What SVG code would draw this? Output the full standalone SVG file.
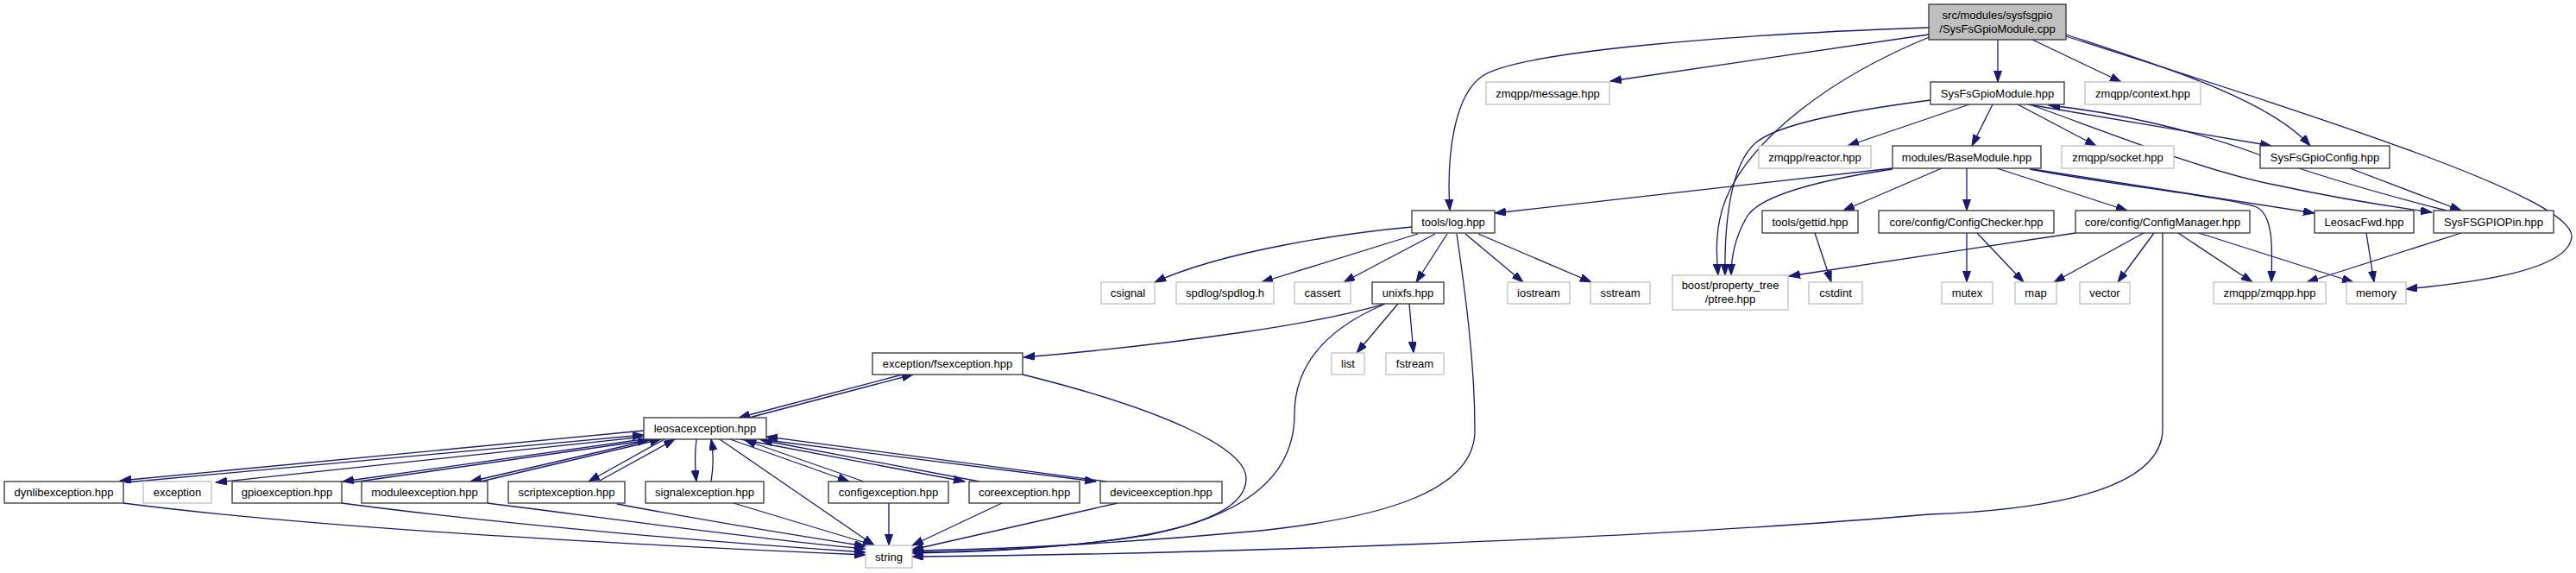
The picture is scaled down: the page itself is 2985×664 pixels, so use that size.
<svg xmlns="http://www.w3.org/2000/svg" width="2985" height="664" viewBox="0 0 2985 664">
<style>
text{font-family:"Liberation Sans",Arial,sans-serif;font-size:13px;text-anchor:middle;fill:#000}
.n rect{fill:#fff;stroke:#333;stroke-width:1.3}
.g rect{fill:#fff;stroke:#bfbfbf;stroke-width:1.3}
.m rect{fill:#bfbfbf;stroke:#333;stroke-width:1.3}
#edges path{fill:none;stroke:#191970;stroke-width:1.3;marker-end:url(#ah)}
</style>
<defs>
<marker id="ah" markerUnits="userSpaceOnUse" markerWidth="14" markerHeight="10" refX="13" refY="4.5" orient="auto">
<path d="M0,0 L13,4.5 L0,9 z" fill="#191970" stroke="#191970"/>
</marker>
</defs>
<rect width="2985" height="664" fill="#fff"/>
<g id="edges">
<path d="M2235,32 C2000,40 1760,60 1718,88 C1685,110 1676,180 1680,244"/>
<path d="M2235,40 L1866,94"/>
<path d="M2238,42 C2120,90 2030,160 2000,230 C1988,260 1988,290 1991,319"/>
<path d="M2315,46 L2315,95"/>
<path d="M2355,46 L2458,95"/>
<path d="M2394,40 C2500,75 2630,115 2677,169"/>
<path d="M2394,42 C2700,140 2985,230 2980,275 C2975,315 2860,328 2788,335"/>
<path d="M2237,116 C2130,130 2060,145 2035,165 C2005,190 1998,260 1999,319"/>
<path d="M2282,121 L2141,169"/>
<path d="M2309,121 L2285,169"/>
<path d="M2338,121 L2429,169"/>
<path d="M2350,121 L2632,169"/>
<path d="M2352,121 C2460,160 2560,200 2640,215 C2700,228 2760,238 2818,246"/>
<path d="M2835,244 C2760,225 2690,205 2620,180 C2540,150 2450,130 2374,122"/>
<path d="M2723,195 L2852,244"/>
<path d="M2193,195 L1732,247"/>
<path d="M2193,196 C2100,210 2040,228 2025,250 C2010,275 2006,300 2006,319"/>
<path d="M2250,195 L2136,244"/>
<path d="M2279,195 L2279,244"/>
<path d="M2314,195 L2465,244"/>
<path d="M2355,196 L2682,247"/>
<path d="M2352,196 C2450,215 2580,228 2615,240 C2635,250 2633,290 2632,327"/>
<path d="M2279,270 L2279,327"/>
<path d="M2291,270 L2345,327"/>
<path d="M2103,270 L2122,327"/>
<path d="M2405,270 L2073,320"/>
<path d="M2484,270 L2380,327"/>
<path d="M2496,270 L2454,327"/>
<path d="M2506,270 L2506,497 C2506,560 2400,590 2235,596 C1900,625 1400,642 1057,645"/>
<path d="M2524,270 L2610,327"/>
<path d="M2548,270 L2727,327"/>
<path d="M2742,270 L2751,327"/>
<path d="M2852,270 L2673,327"/>
<path d="M1636,263 C1560,270 1420,290 1338,327"/>
<path d="M1643,271 L1462,327"/>
<path d="M1663,271 L1557,327"/>
<path d="M1677,271 L1641,327"/>
<path d="M1688,271 C1698,340 1709,420 1709,499 C1709,570 1600,600 1460,615 C1300,630 1150,637 1057,638"/>
<path d="M1698,271 L1765,327"/>
<path d="M1713,271 L1844,327"/>
<path d="M1605,352 C1570,362 1510,375 1440,385 C1350,398 1260,408 1186,414"/>
<path d="M1603,353 C1540,380 1500,420 1500,480 C1500,560 1430,600 1330,620 C1240,634 1150,640 1057,641"/>
<path d="M1620,352 L1572,409"/>
<path d="M1633,352 L1638,409"/>
<path d="M1185,434 C1350,475 1445,520 1444,555 C1443,620 1250,637 1057,640"/>
<path d="M1046,434 L856,484"/>
<path d="M868,484 L1058,434"/>
<path d="M834,509 L1013,632"/>
<path d="M807,509 C805,525 805,540 807,558"/>
<path d="M824,558 C827,540 827,525 824,509"/>
<path d="M846,509 L984,558"/>
<path d="M1001,558 L863,510"/>
<path d="M858,509 L1118,558"/>
<path d="M1135,558 L882,510"/>
<path d="M880,509 L1270,558"/>
<path d="M1282,558 L888,506"/>
<path d="M746,499 L139,557"/>
<path d="M146,559 L746,504"/>
<path d="M748,506 L250,559"/>
<path d="M752,508 L397,558"/>
<path d="M408,559 L752,510"/>
<path d="M758,509 L545,558"/>
<path d="M557,558 L766,509"/>
<path d="M770,509 L682,558"/>
<path d="M693,558 L782,509"/>
<path d="M143,583 C350,610 700,630 1003,643"/>
<path d="M396,583 C600,610 850,630 1003,640"/>
<path d="M565,583 C700,600 880,625 1003,636"/>
<path d="M715,584 C800,600 920,620 1003,633"/>
<path d="M850,583 L1013,632"/>
<path d="M1030,583 L1030,632"/>
<path d="M1161,583 L1057,632"/>
<path d="M1295,583 L1057,637"/>
</g>
<g id="main" class="m"><rect x="2235" y="5" width="159" height="41"/><text x="2314.5" y="22">src/modules/sysfsgpio</text><text x="2314.5" y="38">/SysFsGpioModule.cpp</text></g>
<g id="message" class="g"><rect x="1722" y="95" width="143" height="26"/><text x="1793.5" y="112.5">zmqpp/message.hpp</text></g>
<g id="sysfsgpiomodule" class="n"><rect x="2237" y="95" width="155" height="26"/><text x="2314.5" y="112.5">SysFsGpioModule.hpp</text></g>
<g id="context" class="g"><rect x="2416" y="95" width="134" height="26"/><text x="2483" y="112.5">zmqpp/context.hpp</text></g>
<g id="reactor" class="g"><rect x="2038" y="169" width="130" height="26"/><text x="2103" y="186.5">zmqpp/reactor.hpp</text></g>
<g id="basemodule" class="n"><rect x="2193" y="169" width="172" height="26"/><text x="2279" y="186.5">modules/BaseModule.hpp</text></g>
<g id="socket" class="g"><rect x="2389" y="169" width="130" height="26"/><text x="2454" y="186.5">zmqpp/socket.hpp</text></g>
<g id="sysfsgpioconfig" class="n"><rect x="2619" y="169" width="150" height="26"/><text x="2694" y="186.5">SysFsGpioConfig.hpp</text></g>
<g id="log" class="n"><rect x="1636" y="244" width="96" height="26"/><text x="1684" y="261.5">tools/log.hpp</text></g>
<g id="gettid" class="n"><rect x="2042" y="244" width="111" height="26"/><text x="2097.5" y="261.5">tools/gettid.hpp</text></g>
<g id="configchecker" class="n"><rect x="2177" y="244" width="203" height="26"/><text x="2278.5" y="261.5">core/config/ConfigChecker.hpp</text></g>
<g id="configmanager" class="n"><rect x="2405" y="244" width="202" height="26"/><text x="2506" y="261.5">core/config/ConfigManager.hpp</text></g>
<g id="leosacfwd" class="n"><rect x="2682" y="244" width="115" height="26"/><text x="2739.5" y="261.5">LeosacFwd.hpp</text></g>
<g id="sysfsgpiopin" class="n"><rect x="2820" y="244" width="139" height="26"/><text x="2889.5" y="261.5">SysFSGPIOPin.hpp</text></g>
<g id="csignal" class="g"><rect x="1276" y="327" width="62" height="25"/><text x="1307" y="344">csignal</text></g>
<g id="spdlog" class="g"><rect x="1363" y="327" width="113" height="25"/><text x="1419.5" y="344">spdlog/spdlog.h</text></g>
<g id="cassert" class="g"><rect x="1500" y="327" width="65" height="25"/><text x="1532.5" y="344">cassert</text></g>
<g id="unixfs" class="n"><rect x="1590" y="327" width="83" height="25"/><text x="1631.5" y="344">unixfs.hpp</text></g>
<g id="iostream" class="g"><rect x="1747" y="327" width="72" height="25"/><text x="1783" y="344">iostream</text></g>
<g id="sstream" class="g"><rect x="1843" y="327" width="69" height="25"/><text x="1877.5" y="344">sstream</text></g>
<g id="ptree" class="g"><rect x="1938" y="319" width="134" height="40"/><text x="2005" y="335">boost/property_tree</text><text x="2005" y="351">/ptree.hpp</text></g>
<g id="cstdint" class="g"><rect x="2096" y="327" width="62" height="25"/><text x="2127" y="344">cstdint</text></g>
<g id="mutex" class="g"><rect x="2250" y="327" width="59" height="25"/><text x="2279.5" y="344">mutex</text></g>
<g id="map" class="g"><rect x="2335" y="327" width="48" height="25"/><text x="2359" y="344">map</text></g>
<g id="vector" class="g"><rect x="2410" y="327" width="58" height="25"/><text x="2439" y="344">vector</text></g>
<g id="zmqpp" class="g"><rect x="2565" y="327" width="130" height="25"/><text x="2630" y="344">zmqpp/zmqpp.hpp</text></g>
<g id="memory" class="g"><rect x="2719" y="327" width="69" height="25"/><text x="2753.5" y="344">memory</text></g>
<g id="list" class="g"><rect x="1543" y="409" width="38" height="25"/><text x="1562" y="426">list</text></g>
<g id="fstream" class="g"><rect x="1606" y="409" width="67" height="25"/><text x="1639.5" y="426">fstream</text></g>
<g id="fsexception" class="n"><rect x="1011" y="409" width="174" height="25"/><text x="1098" y="426">exception/fsexception.hpp</text></g>
<g id="leosacexception" class="n"><rect x="746" y="484" width="142" height="25"/><text x="817" y="501">leosacexception.hpp</text></g>
<g id="dynlibexception" class="n"><rect x="5" y="558" width="138" height="25"/><text x="74" y="575">dynlibexception.hpp</text></g>
<g id="exception" class="g"><rect x="166" y="558" width="79" height="25"/><text x="205.5" y="575">exception</text></g>
<g id="gpioexception" class="n"><rect x="269" y="558" width="127" height="25"/><text x="332.5" y="575">gpioexception.hpp</text></g>
<g id="moduleexception" class="n"><rect x="419" y="558" width="146" height="25"/><text x="492" y="575">moduleexception.hpp</text></g>
<g id="scriptexception" class="n"><rect x="589" y="558" width="135" height="25"/><text x="656.5" y="575">scriptexception.hpp</text></g>
<g id="signalexception" class="n"><rect x="748" y="558" width="137" height="25"/><text x="816.5" y="575">signalexception.hpp</text></g>
<g id="configexception" class="n"><rect x="960" y="558" width="139" height="25"/><text x="1029.5" y="575">configexception.hpp</text></g>
<g id="coreexception" class="n"><rect x="1123" y="558" width="128" height="25"/><text x="1187" y="575">coreexception.hpp</text></g>
<g id="deviceexception" class="n"><rect x="1275" y="558" width="141" height="25"/><text x="1345.5" y="575">deviceexception.hpp</text></g>
<g id="string" class="g"><rect x="1003" y="632" width="54" height="26"/><text x="1030" y="649.5">string</text></g>
</svg>
